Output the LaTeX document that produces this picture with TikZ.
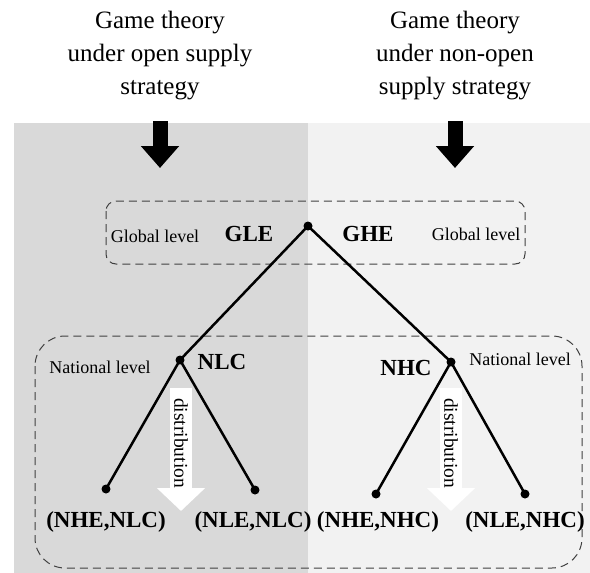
\documentclass[tikz,border=0pt]{standalone}
\usepackage{fontspec}
\setmainfont{Liberation Serif}
\usetikzlibrary{arrows.meta}

\definecolor{openbg}{HTML}{D9D9D9}
\definecolor{nonopenbg}{HTML}{F2F2F2}

\begin{document}
\begin{tikzpicture}[x=1pt, y=-1pt,
    title/.style={align=center, font=\fontsize{25}{33}\selectfont},
    lvl/.style={inner sep=0pt, font=\fontsize{18}{20}\selectfont},
    eq/.style={inner sep=0pt, font=\fontsize{23}{25}\selectfont\bfseries},
    dot/.style={circle, fill=black, inner sep=0pt, minimum size=9pt},
    branch/.style={line width=2.5pt},
    levelbox/.style={draw=black!75, line width=1pt, dash pattern=on 8pt off 5pt},
    downarrow/.style={line width=15pt, -{Triangle[width=37pt,length=22pt]}},
    distarrow/.style={white, line width=22pt, -{Triangle[width=47pt,length=23pt]}},
    distlabel/.style={inner sep=0pt, rotate=-90, font=\fontsize{19.5}{20}\selectfont}
]
\useasboundingbox (0,0) rectangle (590,573);

% Backgrounds of the two strategies
\fill[openbg] (14,123) rectangle (308,573);
\fill[nonopenbg] (308,123) rectangle (590,573);

% Titles
\node[title] (topen) at (160,56) {Game theory\\under open supply\\strategy};
\node[title] (tnonopen) at (455,56) {Game theory\\under non-open\\supply strategy};

% Entry arrows
\coordinate (ao1) at (160,121);
\coordinate (ao2) at (160,168);
\coordinate (an1) at (455,121);
\coordinate (an2) at (455,168);
\draw[downarrow] (ao1) -- (ao2);
\draw[downarrow] (an1) -- (an2);

% Level boxes
\draw[levelbox, rounded corners=10pt] (106,201) rectangle (525,264);
\draw[levelbox, rounded corners=30pt] (35,336) rectangle (582,568);

% Tree nodes
\node[dot] (root) at (308,226) {};
\node[dot] (nlc) at (180,360) {};
\node[dot] (nhc) at (451,362) {};
\node[dot] (l1) at (106,489) {};
\node[dot] (l2) at (255,490) {};
\node[dot] (l3) at (376,494) {};
\node[dot] (l4) at (525,494) {};

% Branches
\draw[branch] (root.center) -- (nlc.center);
\draw[branch] (root.center) -- (nhc.center);
\draw[branch] (nlc.center) -- (l1.center);
\draw[branch] (nlc.center) -- (l2.center);
\draw[branch] (nhc.center) -- (l3.center);
\draw[branch] (nhc.center) -- (l4.center);

% Distribution arrows
\coordinate (dl1) at (181,388);
\coordinate (dl2) at (181,511);
\coordinate (dr1) at (451,388);
\coordinate (dr2) at (451,511);
\draw[distarrow] (dl1) -- (dl2);
\draw[distarrow] (dr1) -- (dr2);
\node[distlabel] (dlt) at (181,443) {distribution};
\node[distlabel] (drt) at (451,443) {distribution};

% Labels
\node[lvl] (glbl) at (155,236) {Global level};
\node[lvl] (grbl) at (476,234) {Global level};
\node[lvl] (nlbl) at (100,367) {National level};
\node[lvl] (nrbl) at (520,359) {National level};
\node[eq] (gle) at (249,234) {GLE};
\node[eq] (ghe) at (368,234) {GHE};
\node[eq] (nlct) at (222,362) {NLC};
\node[eq] (nhct) at (406,368) {NHC};
\node[eq] (e1) at (106,522) {(NHE,NLC)};
\node[eq] (e2) at (253,522) {(NLE,NLC)};
\node[eq] (e3) at (378,522) {(NHE,NHC)};
\node[eq] (e4) at (525,522) {(NLE,NHC)};

\end{tikzpicture}
\end{document}
